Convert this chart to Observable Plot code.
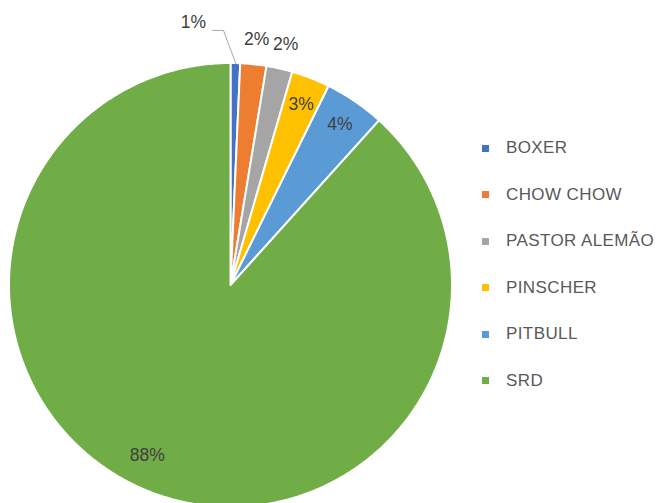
<!DOCTYPE html>
<html>
<head>
<meta charset="utf-8">
<script src="https://cdn.jsdelivr.net/npm/d3@7"></script>
<script src="https://cdn.jsdelivr.net/npm/@observablehq/plot@0.6"></script>
<style>
  html, body { margin: 0; padding: 0; background: #fff; overflow: hidden; }
  #wrap { position: relative; width: 659px; height: 503px; overflow: hidden; }
  #legend { position: absolute; left: 482px; top: 137px; }
  .lg-swatches { font-family: "Liberation Sans", Arial, sans-serif !important; font-size: 17px !important; letter-spacing: 0.4px; color: #595959 !important; margin: 0 !important; }
  .lg-swatch { line-height: 22px !important; height: 22px !important; margin-bottom: 24.6px !important; padding: 0 !important; }
  .lg-swatch svg { margin-right: 17px !important; }
</style>
</head>
<body>
<div id="wrap"><div id="chart"></div><div id="legend"></div></div>
<script>
const categories = ["BOXER", "CHOW CHOW", "PASTOR ALEMÃO", "PINSCHER", "PITBULL", "SRD"];
const values = [0.7, 1.9, 1.9, 2.8, 4.4, 88.3];
const colors = ["#4472C4", "#ED7D31", "#A5A5A5", "#FFC000", "#5B9BD5", "#70AD47"];

const data = categories.map((c, i) => ({category: c, value: values[i]}));
const total = d3.sum(values);
const arcs = d3.pie().sort(null).value(d => d.value)(data);

// wedge outlines in unit circle coords (y up)
const wedgePts = [];
for (const a of arcs) {
  const n = Math.max(2, Math.ceil((a.endAngle - a.startAngle) / 0.01));
  for (let k = 0; k <= n; k++) {
    const t = a.startAngle + (a.endAngle - a.startAngle) * k / n;
    wedgePts.push({category: a.data.category, x: Math.sin(t), y: Math.cos(t)});
  }
}

// label placement
const labels = [];
const leaders = [];
for (const a of arcs) {
  const m = (a.startAngle + a.endAngle) / 2;
  const pct = a.data.value / total * 100;
  const text = Math.round(pct) + "%";
  if (pct < 1) {
    const px = Math.sin(m), py = Math.cos(m);
    leaders.push({x: px, y: py}, {x: -0.034, y: 1.149}, {x: -0.083, y: 1.149});
    labels.push({x: -0.17, y: 1.185, text});
  } else if (pct < 2.5) {
    labels.push({x: 1.115 * Math.sin(m), y: 1.115 * Math.cos(m), text});
  } else if (pct > 50) {
    labels.push({x: 0.855 * Math.sin(m + 0.09), y: 0.855 * Math.cos(m + 0.09), text});
  } else {
    labels.push({x: 0.875 * Math.sin(m), y: 0.875 * Math.cos(m), text});
  }
}

const chart = Plot.plot({
  width: 659,
  height: 503,
  margin: 0,
  style: {fontFamily: "Liberation Sans, Arial, sans-serif", background: "white", overflow: "hidden"},
  x: {domain: [-1, 1], range: [9, 452], axis: null},
  y: {domain: [-1, 1], range: [507, 63], axis: null},
  color: {domain: categories, range: colors},
  marks: [
    Plot.area(wedgePts, {
      x1: 0, y1: 0, x2: "x", y2: "y",
      z: "category", fill: "category",
      stroke: "white", strokeWidth: 2, strokeLinejoin: "round"
    }),
    Plot.line(leaders, {x: "x", y: "y", stroke: "#a6a6a6", strokeWidth: 1}),
    Plot.text(labels, {
      x: "x", y: "y", text: "text",
      fill: "#404040", fontSize: 17.5, textAnchor: "middle", lineAnchor: "middle"
    })
  ]
});
document.getElementById("chart").appendChild(chart);

const legend = chart.legend("color", {legend: "swatches", columns: 1, swatchSize: 7, className: "lg"});
document.getElementById("legend").appendChild(legend);
</script>
</body>
</html>
